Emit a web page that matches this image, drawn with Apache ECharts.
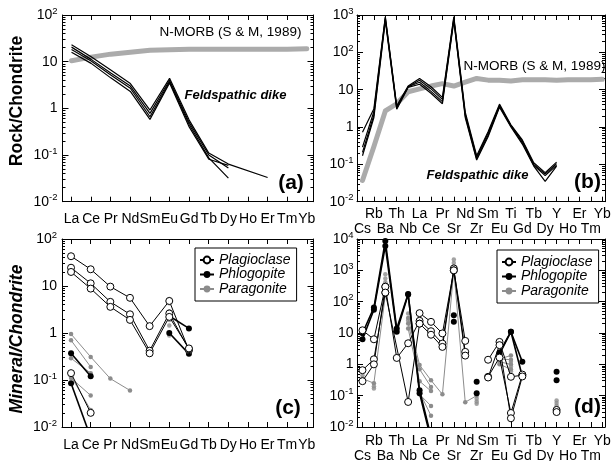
<!DOCTYPE html>
<html>
<head>
<meta charset="utf-8">
<script src="https://cdn.jsdelivr.net/npm/echarts@6/dist/echarts.min.js"></script>
<style>
html, body { margin: 0; padding: 0; background: #fff; }
#chart { width: 612px; height: 461px; }
</style>
</head>
<body>
<div id="chart"></div>
<script>
var n = null;
var reeNames = ['La', 'Ce', 'Pr', 'Nd', 'Sm', 'Eu', 'Gd', 'Tb', 'Dy', 'Ho', 'Er', 'Tm', 'Yb'];
var spiderNames = ['Cs', 'Rb', 'Ba', 'Th', 'Nb', 'La', 'Ce', 'Pr', 'Sr', 'Nd', 'Zr', 'Sm', 'Eu', 'Ti', 'Gd', 'Tb', 'Dy', 'Y', 'Ho', 'Er', 'Tm', 'Yb'];
var mineralNames = ['Plagioclase', 'Phlogopite', 'Paragonite'];

// (a) rock / chondrite, REE
var morbRee = [10.5, 12.5, 14.5, 16, 17.5, 18, 18.5, 18.5, 18.5, 18.5, 18.5, 18.5, 19];
var dikeRee1 = [23, 12.8, 6.6, 3.4, 0.92, 4.4, 0.56, 0.11, 0.064, n, 0.033];
var dikeRee2 = [20.5, 11.2, 5.7, 3.0, 0.78, 4.0, 0.5, 0.1, 0.053];
var dikeRee3 = [18.2, 10.3, 5.2, 2.7, 0.66, 3.7, 0.45, 0.087, 0.032];
var dikeRee4 = [16, 9.2, 4.5, 2.3, 0.58, 3.5, 0.4, 0.081, 0.06];

// (b) rock / chondrite, spider
var morbSpider = [0.037, 0.3, 2.7, 4.2, 8.8, 10.5, 12.5, 14.5, 12.5, 16, 20, 18, 18, 17, 18.5, 18.5, 18.5, 18, 18.5, 18.5, 18.5, 19];
var dikeSp1 = [0.72, 3.1, 900, 3.7, 12.5, 20, 12, 6.2, 900, 2.5, 0.17, 0.75, 4.1, 1.15, 0.45, 0.11, 0.06, 0.115];
var dikeSp2 = [0.29, 2.6, 850, 3.5, 12, 17.8, 10.5, 5.5, 820, 2.2, 0.155, 0.68, 3.8, 1.1, 0.42, 0.1, 0.055, 0.105];
var dikeSp3 = [0.21, 2.1, 780, 3.2, 12, 15.8, 9, 4.8, 760, 2.0, 0.14, 0.6, 3.6, 1.05, 0.38, 0.095, 0.05, 0.095];
var dikeSp4 = [0.17, 1.8, 700, 3.0, 11.5, 14, 8, 4.2, 700, 1.8, 0.13, 0.55, 3.4, 1.0, 0.35, 0.09, 0.035, 0.09];

// (c) mineral / chondrite, REE
var plagC1 = [43, 22.7, 9.7, 5.6, 1.4, 4.8, 0.43];
var plagC2 = [24.5, 11.4, 4.6, 2.5, 0.42, 2.6, 0.45];
var plagC3 = [19.9, 8.8, 3.6, 1.9, 0.37, 2.2, 0.47];
var plagC4 = [0.14, 0.02];
var phlC1 = [0.37, 0.12];
var phlC2 = [0.085, 0.006];
var phlC3 = [n, n, n, n, n, 2.3, 1.25];
var phlC4 = [n, n, n, n, n, 1.0, 0.36];
var parC1 = [0.95, 0.31, 0.107, 0.06];
var parC2 = [0.7, 0.19];
var parC3 = [0.29, 0.14];
var parC4 = [0.11, 0.047];
var parC5 = [0.12, 0.023];
var parDotsC = [[], [], [], [], [], [5.3, 4.3, 2.9, 1.9, 1.45, 0.88]];

// (d) mineral / chondrite, spider
var plagD1 = [12.2, 6.3, 300, 1.6, 4.7, 24.5, 11.4, 4.6, 1150, 2.5, n, 1.4, 5.2, 0.4, 0.45, n, n, 0.035];
var plagD2 = [0.65, 1.45, 195, n, n, 19.9, 8.8, 3.6, 1000, 1.9, n, 0.4, 1.65, 0.028, 0.47, n, n, 0.03];
var plagD3 = [0.29, 1.0, 300, n, n, 43, 22.7, 9.7, 1000, 5.6, n, 0.38, 4.1, 0.019, 0.41];
var plagD4 = [n, n, 195, n, 0.063, 19.9];
var phlD1 = [9.8, 65, 8700, 13.8, 175, 0.15, 0.005, n, 37, n, 0.28, n, 2.4, 11, 1.2, n, n, 0.58];
var phlD2 = [6.3, 55, 6000, 11, 170, 0.12, 0.004, n, 23, n, 0.12, n, 2.1, 11, 0.41, n, n, 0.31];
var parD1 = [n, n, n, n, 30, 0.95, 0.31, 0.11, 1000, 0.062, 0.1];
var parD2 = [n, n, n, n, 20, 0.7, 0.19];
var parD3 = [n, n, n, n, 14, 0.29, 0.14];
var parD4 = [n, n, n, n, n, 0.11, 0.047];
var parD5 = [n, n, n, n, n, 0.13, 0.023];
var parD6 = [0.35, 0.25, 160];
var parD7 = [n, n, n, n, n, n, n, n, n, n, n, n, 1.5, 1.9];
var parD8 = [n, n, n, n, n, n, n, n, n, n, n, n, 1.5, 1.4];
var parD9 = [n, n, n, n, n, n, n, n, n, n, n, n, 1.2, 1.0];
var parD10 = [n, n, n, n, n, n, n, n, n, n, n, n, 1.0, 0.7];
var parDotsD = [[0.45, 0.3], [0.2, 0.17], [750, 550, 420], [], [42, 25], [], [], [], [2200, 1700], [],
  [0.08, 0.065, 0.055], [], [], [1.2, 0.85, 0.6], [], [], [], [0.07, 0.058, 0.048]];

var FONT = '"Liberation Sans", Arial, Helvetica, sans-serif';

var panels = [
  { left: 62.5, top: 15, width: 251, height: 186.7, xMin: -0.46, xMax: 12.34, yMin: 0.01, yMax: 100, names: reeNames, twoRow: false, xMargin: 10, yMargin: 5 },
  { left: 357, top: 15, width: 248, height: 186.7, xMin: -0.48, xMax: 21.24, yMin: 0.01, yMax: 1000, names: spiderNames, twoRow: true, xMargin: 5, yMargin: 3.5 },
  { left: 62, top: 239, width: 251.5, height: 188, xMin: -0.46, xMax: 12.34, yMin: 0.01, yMax: 100, names: reeNames, twoRow: false, xMargin: 11, yMargin: 5 },
  { left: 357, top: 239, width: 248, height: 188, xMin: -0.48, xMax: 21.24, yMin: 0.01, yMax: 10000, names: spiderNames, twoRow: true, xMargin: 7, yMargin: 3.5 }
];

function powLabel(v) {
  var e = Math.round(Math.log(v) / Math.LN10);
  if (e === 0) return '{b|1}';
  if (e === 1) return '{b|10}';
  return '{b|10}{s|' + e + '}';
}

var grids = [], xAxes = [], extraX = [], yAxes = [];
panels.forEach(function (p, g) {
  grids.push({ left: p.left, top: p.top, width: p.width, height: p.height, outerBoundsMode: 'none' });
  var idx = p.names.map(function (name, i) { return i; });
  // two-row labels: odd indices on the upper row, even indices on the lower row
  var row1 = p.twoRow ? idx.filter(function (i) { return i % 2 === 1; }) : idx;
  var row2 = idx.filter(function (i) { return i % 2 === 0; });
  var axLine = { show: true, onZero: false, lineStyle: { color: '#000', width: 1 } };
  var nameOf = function (v) { return p.names[Math.round(v)]; };
  var lo = Math.round(Math.log(p.yMin) / Math.LN10), hi = Math.round(Math.log(p.yMax) / Math.LN10);
  var minor = [];
  for (var d = lo; d < hi; d++) {
    for (var k = 2; k < 10; k++) minor.push(d + Math.log(k) / Math.LN10);
  }
  xAxes.push({
    gridIndex: g, type: 'value', position: 'bottom', min: p.xMin, max: p.xMax,
    axisLine: axLine, splitLine: { show: false },
    axisTick: { inside: true, length: 5, customValues: idx, lineStyle: { color: '#000' } },
    axisLabel: {
      customValues: row1, margin: p.xMargin, color: '#000', fontFamily: FONT, fontSize: 14,
      showMinLabel: true, showMaxLabel: true, formatter: nameOf
    }
  });
  xAxes.push({
    gridIndex: g, type: 'value', position: 'top', min: p.xMin, max: p.xMax,
    axisLine: axLine, splitLine: { show: false },
    axisTick: { inside: true, length: 5, customValues: idx, lineStyle: { color: '#000' } },
    axisLabel: { show: false }
  });
  if (p.twoRow) {
    extraX.push({
      gridIndex: g, type: 'value', position: 'bottom', min: p.xMin, max: p.xMax,
      axisLine: { show: false, onZero: false }, axisTick: { show: false }, splitLine: { show: false },
      axisLabel: {
        customValues: row2, margin: p.xMargin + 15.5, color: '#000', fontFamily: FONT, fontSize: 14,
        showMinLabel: true, showMaxLabel: true, formatter: nameOf
      }
    });
  }
  yAxes.push({
    gridIndex: g, type: 'log', logBase: 10, position: 'left', min: p.yMin, max: p.yMax,
    axisLine: axLine, splitLine: { show: false },
    axisTick: { inside: true, length: 6, lineStyle: { color: '#000' } },
    axisLabel: {
      margin: p.yMargin, color: '#000', formatter: powLabel, showMinLabel: true, showMaxLabel: true,
      rich: {
        b: { fontFamily: FONT, fontSize: 14, lineHeight: 18, color: '#000' },
        s: { fontFamily: FONT, fontSize: 9.5, verticalAlign: 'top', color: '#000' }
      }
    }
  });
  yAxes.push({
    gridIndex: g, type: 'log', logBase: 10, position: 'right', min: p.yMin, max: p.yMax,
    axisLine: axLine, splitLine: { show: false },
    axisTick: { inside: true, length: 6, lineStyle: { color: '#000' } },
    axisLabel: { show: false }
  });
  ['left', 'right'].forEach(function (side) {
    yAxes.push({
      gridIndex: g, type: 'value', position: side, min: lo, max: hi,
      axisLine: { show: false, onZero: false }, splitLine: { show: false },
      axisTick: { inside: true, length: 3, customValues: minor, lineStyle: { color: '#000' } },
      axisLabel: { show: false }
    });
  });
});

function makeLine(name, vals, g, kind, connect) {
  var s = {
    name: name, type: 'line', xAxisIndex: g * 2, yAxisIndex: g * 4,
    data: vals.map(function (v, i) { return [i, v == null ? '-' : v]; }),
    connectNulls: !!connect, animation: false, silent: true, showAllSymbol: true
  };
  if (kind === 'morb') {
    s.symbol = 'none'; s.z = 1;
    s.lineStyle = { color: '#ababab', width: 5, cap: 'round', join: 'round' };
  } else if (kind === 'dike') {
    s.symbol = 'none'; s.z = 3;
    s.lineStyle = { color: '#000', width: 1.2 };
  } else if (kind === 'plag') {
    s.symbol = 'circle'; s.symbolSize = 7; s.z = 6;
    s.itemStyle = { color: '#fff', borderColor: '#000', borderWidth: 1 };
    s.lineStyle = { color: '#000', width: 1 };
  } else if (kind === 'phl') {
    s.symbol = 'circle'; s.symbolSize = 6; s.z = 5;
    s.itemStyle = { color: '#000', borderColor: '#000', borderWidth: 0 };
    s.lineStyle = { color: '#000', width: 1.6 };
  } else {
    s.symbol = 'circle'; s.symbolSize = 4.5; s.z = 4;
    s.itemStyle = { color: '#8c8c8c', borderWidth: 0 };
    s.lineStyle = { color: '#8c8c8c', width: 1 };
  }
  return s;
}

function makeDots(lists, g) {
  var pts = [];
  lists.forEach(function (vals, i) {
    vals.forEach(function (v) { pts.push([i, v]); });
  });
  return {
    name: 'Paragonite', type: 'scatter', xAxisIndex: g * 2, yAxisIndex: g * 4,
    data: pts, symbolSize: 4.5, itemStyle: { color: '#8c8c8c' }, z: 4, animation: false, silent: true
  };
}

var series = [
  // (a)
  makeLine('N-MORB', morbRee, 0, 'morb'),
  makeLine('dike', dikeRee1, 0, 'dike', true),
  makeLine('dike', dikeRee2, 0, 'dike', true),
  makeLine('dike', dikeRee3, 0, 'dike', true),
  makeLine('dike', dikeRee4, 0, 'dike', true),
  // (b)
  makeLine('N-MORB', morbSpider, 1, 'morb'),
  makeLine('dike', dikeSp1, 1, 'dike'),
  makeLine('dike', dikeSp2, 1, 'dike'),
  makeLine('dike', dikeSp3, 1, 'dike'),
  makeLine('dike', dikeSp4, 1, 'dike'),
  // (c)
  makeLine('Plagioclase', plagC1, 2, 'plag'),
  makeLine('Plagioclase', plagC2, 2, 'plag'),
  makeLine('Plagioclase', plagC3, 2, 'plag'),
  makeLine('Plagioclase', plagC4, 2, 'plag'),
  makeLine('Phlogopite', phlC1, 2, 'phl'),
  makeLine('Phlogopite', phlC2, 2, 'phl'),
  makeLine('Phlogopite', phlC3, 2, 'phl'),
  makeLine('Phlogopite', phlC4, 2, 'phl'),
  makeLine('Paragonite', parC1, 2, 'par'),
  makeLine('Paragonite', parC2, 2, 'par'),
  makeLine('Paragonite', parC3, 2, 'par'),
  makeLine('Paragonite', parC4, 2, 'par'),
  makeLine('Paragonite', parC5, 2, 'par'),
  makeDots(parDotsC, 2),
  // (d)
  makeLine('Plagioclase', plagD1, 3, 'plag'),
  makeLine('Plagioclase', plagD2, 3, 'plag'),
  makeLine('Plagioclase', plagD3, 3, 'plag'),
  makeLine('Plagioclase', plagD4, 3, 'plag', true),
  makeLine('Phlogopite', phlD1, 3, 'phl'),
  makeLine('Phlogopite', phlD2, 3, 'phl'),
  makeLine('Paragonite', parD1, 3, 'par'),
  makeLine('Paragonite', parD2, 3, 'par'),
  makeLine('Paragonite', parD3, 3, 'par'),
  makeLine('Paragonite', parD4, 3, 'par'),
  makeLine('Paragonite', parD5, 3, 'par'),
  makeLine('Paragonite', parD6, 3, 'par'),
  makeLine('Paragonite', parD7, 3, 'par'),
  makeLine('Paragonite', parD8, 3, 'par'),
  makeLine('Paragonite', parD9, 3, 'par'),
  makeLine('Paragonite', parD10, 3, 'par'),
  makeDots(parDotsD, 3)
];

function legendAt(left, top) {
  return {
    data: mineralNames, left: left, top: top, orient: 'vertical',
    itemWidth: 14, itemHeight: 8.5, itemGap: 0.5, padding: [5, 6, 5, 4],
    borderColor: '#000', borderWidth: 1, selectedMode: false,
    textStyle: { fontFamily: FONT, fontStyle: 'italic', fontSize: 14, color: '#000' }
  };
}

function label(text, x, y, font, rot) {
  return {
    type: 'text', x: x, y: y, rotation: rot || 0,
    style: { text: text, font: font, fill: '#000', textAlign: 'center', textVerticalAlign: 'middle' }
  };
}

var graphics = [
  label('N-MORB (S & M, 1989)', 230.5, 32.5, '13.5px ' + FONT),
  label('N-MORB (S & M, 1989)', 534.5, 66.5, '13.5px ' + FONT),
  label('Feldspathic dike', 235.5, 95, 'italic bold 13px ' + FONT),
  label('Feldspathic dike', 477.5, 175, 'italic bold 13px ' + FONT),
  label('(a)', 291, 183, 'bold 21px ' + FONT),
  label('(b)', 587.5, 182, 'bold 21px ' + FONT),
  label('(c)', 288, 408, 'bold 21px ' + FONT),
  label('(d)', 587.5, 407, 'bold 21px ' + FONT),
  label('Rock/Chondrite', 17.5, 101, 'bold 17.5px ' + FONT, Math.PI / 2),
  label('Mineral/Chondrite', 17.5, 339, 'italic bold 17.5px ' + FONT, Math.PI / 2)
];

var myChart = echarts.init(document.getElementById('chart'), null, { renderer: 'canvas' });
myChart.setOption({
  backgroundColor: '#fff',
  animation: false,
  grid: grids,
  xAxis: xAxes.concat(extraX),
  yAxis: yAxes,
  legend: [legendAt(195, 248), legendAt(497, 250)],
  graphic: graphics,
  series: series
});
</script>
</body>
</html>
